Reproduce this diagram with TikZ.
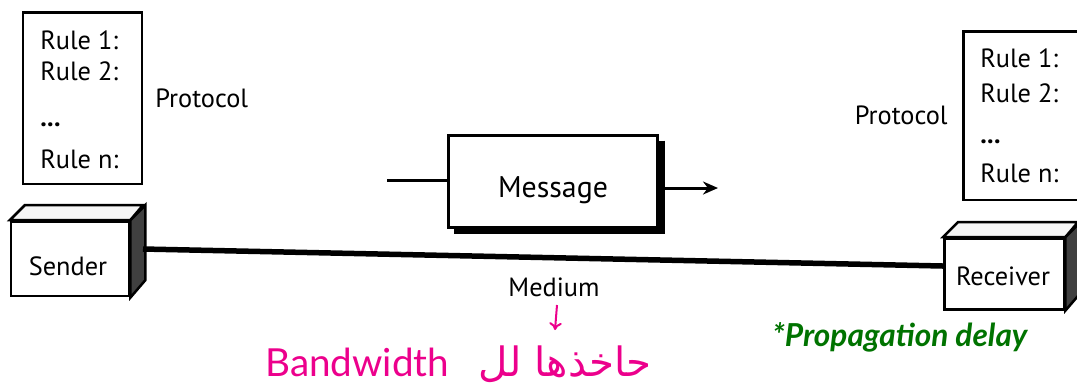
\documentclass[tikz,border=0pt]{standalone}
\usepackage{fontspec}
\setmainfont{PT Sans}
\newfontfamily\arabicfont[Script=Arabic]{DejaVu Sans}
\newfontfamily\handfont{Lato}
\TeXXeTstate=1
\usetikzlibrary{arrows.meta}

\tikzstyle{rules} = [rectangle, draw, line width=0.5mm, inner sep=0pt]
\tikzstyle{rule} = [anchor=base west, inner sep=0pt, font=\fontsize{15}{17}\selectfont]
\tikzstyle{label} = [inner sep=0pt, font=\fontsize{15}{17}\selectfont]
\tikzstyle{station} = [rectangle, draw, line width=0.5mm, fill=white, inner sep=0pt]
\tikzstyle{side} = [draw, line width=0.5mm, fill=black!75]
\tikzstyle{top} = [draw, line width=0.5mm, fill=black!4]
\tikzstyle{line} = [draw, line width=0.6mm, -{Stealth[length=3mm, width=2.6mm]}]
\tikzstyle{note} = [inner sep=0pt, font=\handfont\fontsize{22}{24}\selectfont]

\begin{document}
\begin{tikzpicture}[x=0.02cm, y=-0.02cm]
		\useasboundingbox (0,0) rectangle (1077,387);
		%Sender side
		\node [rules, minimum width=2.38cm, minimum height=3.44cm, anchor=north west] (rulesA) at (22,11) {};
		\node [rule] (ruleA1) at (40,49) {Rule 1:};
		\node [rule] (ruleA2) at (40,80) {Rule 2:};
		\node [rule] (ruleA3) at (40,126) {\textbf{...}};
		\node [rule] (ruleA4) at (40,168) {Rule n:};
		\node [label, anchor=base west] (protA) at (155,107) {Protocol};

		\node [station, minimum width=2.36cm, minimum height=1.5cm, anchor=north west] (sender) at (10,220) {};
		\node [label, anchor=base] (senderTxt) at (68,275) {Sender};
		\path [top] (sender.north west) -- ++(15,-15) -- ++(118,0) -- (sender.north east) -- cycle;
		\path [side] (sender.north east) -- ++(15,-15) -- ++(0,75) -- (sender.south east) -- cycle;

		%Receiver side
		\begin{scope}
		\clip (0,0) rectangle (1077,387);
		\node [rules, minimum width=2.6cm, minimum height=3.38cm, anchor=north west] (rulesB) at (962,30) {};
		\node [station, minimum width=2.4cm, minimum height=1.42cm, anchor=north west] (receiver) at (943,237) {};
		\path [top] (receiver.north west) -- ++(15,-15) -- ++(120,0) -- (receiver.north east) -- cycle;
		\path [side] (receiver.north east) -- ++(15,-15) -- ++(0,71) -- (receiver.south east) -- cycle;
		\end{scope}
		\node [rule] (ruleB1) at (980,67) {Rule 1:};
		\node [rule] (ruleB2) at (980,102) {Rule 2:};
		\node [rule] (ruleB3) at (980,143) {\textbf{...}};
		\node [rule] (ruleB4) at (980,182) {Rule n:};
		\node [label, anchor=base east] (protB) at (948,124) {Protocol};
		\node [label, anchor=base] (receiverTxt) at (1003,285) {Receiver};

		%Medium
		\coordinate (medA) at (143,249);
		\coordinate (medB) at (943,266);
		\draw [line width=1.1mm] (medA) -- (medB);
		\node [label, anchor=base] (medium) at (554,296) {Medium};

		%Message
		\node [rectangle, draw, line width=0.6mm, minimum width=4.2cm, minimum height=1.84cm, fill=white] (msg) at (553,181) {};
		\node [label, anchor=base, font=\fontsize{17}{19}\selectfont] (msgTxt) at (553,197) {Message};
		\draw [line width=1.2mm] ([xshift=1.2pt,yshift=-4pt]msg.north east) -- ([xshift=1.2pt,yshift=-1.2pt]msg.south east) -- ([xshift=4pt,yshift=-1.2pt]msg.south west);
		\coordinate (inA) at (387,180);
		\coordinate (outB) at (718,188);
		\draw [line width=0.6mm] (inA) -- (msg.west |- inA);
		\draw [line] ([xshift=1.5pt]msg.east |- outB) -- (outB);

		%notes
		\coordinate (bwTip) at (555,330);
		\draw [line width=0.4mm, color=magenta, -{To[length=1.5mm, width=2.5mm]}] (557,305) -- (bwTip);
		\node [note, color=magenta, anchor=base west] (bw) at (265,376) {Bandwidth};
		\node [note, color=magenta, anchor=base east, font=\arabicfont\fontsize{23}{25}\selectfont] (bwAr) at (652,376) {\beginR حاخذها لل\endR};
		\node [note, color=green!45!black, anchor=base west, font=\handfont\bfseries\itshape\fontsize{18}{20}\selectfont] (delay) at (772,346) {*Propagation delay};
\end{tikzpicture}
\end{document}
